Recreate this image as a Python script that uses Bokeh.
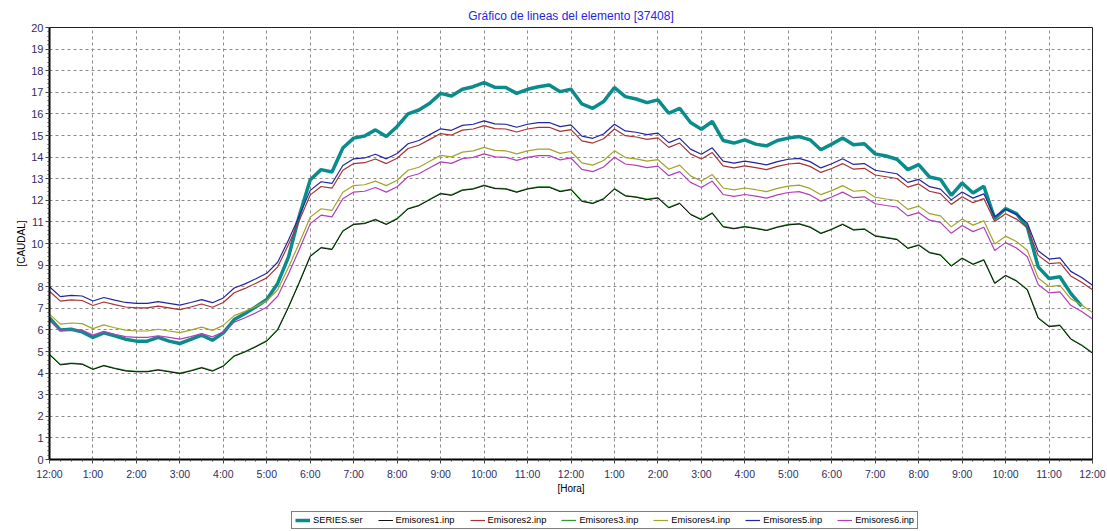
from bokeh.plotting import figure
from bokeh.layouts import column
from bokeh.models import FixedTicker, Legend, LegendItem, Range1d
from bokeh.embed import file_html
from bokeh.resources import INLINE

# ---- data (15-minute steps from 12:00 AM to 12:00 AM next day) ----
hour_labels = ["12:00", "1:00", "2:00", "3:00", "4:00", "5:00", "6:00", "7:00", "8:00",
               "9:00", "10:00", "11:00", "12:00", "1:00", "2:00", "3:00", "4:00", "5:00",
               "6:00", "7:00", "8:00", "9:00", "10:00", "11:00", "12:00"]

series_ser = [6.55, 5.99, 6.03, 5.91, 5.65, 5.86, 5.73, 5.57, 5.48, 5.48, 5.65, 5.48,
              5.37, 5.56, 5.76, 5.52, 5.86, 6.48, 6.76, 7.07, 7.41, 8.15, 9.38, 11.30,
              12.95, 13.42, 13.31, 14.42, 14.88, 14.98, 15.26, 14.95, 15.42, 16.00, 16.18, 16.49,
              16.95, 16.83, 17.14, 17.26, 17.45, 17.23, 17.22, 16.95, 17.14, 17.26, 17.34, 17.03,
              17.14, 16.46, 16.26, 16.57, 17.22, 16.80, 16.69, 16.52, 16.65, 16.03, 16.26, 15.60,
              15.29, 15.65, 14.77, 14.65, 14.80, 14.60, 14.52, 14.77, 14.88, 14.95, 14.80, 14.34,
              14.60, 14.88, 14.57, 14.62, 14.15, 14.05, 13.90, 13.42, 13.65, 13.08, 12.97, 12.23,
              12.80, 12.34, 12.65, 11.15, 11.62, 11.38, 10.77, 8.92, 8.38, 8.46, 7.69, 7.10]

emisores1 = [4.85, 4.38, 4.44, 4.41, 4.17, 4.34, 4.21, 4.10, 4.06, 4.06, 4.14, 4.06,
             3.98, 4.10, 4.24, 4.09, 4.32, 4.78, 4.98, 5.22, 5.48, 6.00, 7.05, 8.20,
             9.40, 9.80, 9.72, 10.57, 10.88, 10.92, 11.10, 10.88, 11.14, 11.60, 11.75, 12.03,
             12.30, 12.23, 12.46, 12.52, 12.68, 12.54, 12.52, 12.37, 12.52, 12.60, 12.60, 12.40,
             12.49, 11.95, 11.85, 12.06, 12.52, 12.20, 12.14, 12.03, 12.10, 11.65, 11.85, 11.34,
             11.10, 11.40, 10.77, 10.68, 10.77, 10.69, 10.60, 10.75, 10.86, 10.90, 10.75, 10.46,
             10.65, 10.88, 10.62, 10.66, 10.34, 10.26, 10.18, 9.77, 9.92, 9.57, 9.46, 8.95,
             9.31, 9.03, 9.23, 8.15, 8.51, 8.26, 7.85, 6.54, 6.15, 6.20, 5.57, 5.28, 4.92]

emisores2 = [7.79, 7.33, 7.39, 7.36, 7.13, 7.29, 7.17, 7.06, 7.02, 7.02, 7.10, 7.02,
             6.94, 7.06, 7.20, 7.05, 7.27, 7.72, 7.92, 8.16, 8.41, 8.92, 9.95, 11.07,
             12.25, 12.64, 12.56, 13.39, 13.70, 13.74, 13.91, 13.70, 13.95, 14.40, 14.55, 14.82,
             15.09, 15.02, 15.25, 15.30, 15.46, 15.32, 15.30, 15.16, 15.30, 15.38, 15.38, 15.19,
             15.27, 14.75, 14.65, 14.85, 15.30, 14.99, 14.93, 14.82, 14.89, 14.45, 14.65, 14.15,
             13.91, 14.21, 13.59, 13.50, 13.59, 13.51, 13.42, 13.57, 13.68, 13.72, 13.57, 13.29,
             13.47, 13.70, 13.44, 13.48, 13.17, 13.09, 13.01, 12.61, 12.76, 12.42, 12.31, 11.81,
             12.16, 11.89, 12.08, 11.02, 11.38, 11.13, 10.73, 9.45, 9.07, 9.11, 8.50, 8.21, 7.86]

emisores3 = [4.87, 4.40, 4.46, 4.43, 4.19, 4.36, 4.23, 4.12, 4.08, 4.08, 4.16, 4.08,
             4.00, 4.12, 4.26, 4.11, 4.34, 4.80, 5.00, 5.24, 5.50, 6.02, 7.07, 8.22,
             9.42, 9.82, 9.74, 10.59, 10.90, 10.94, 11.12, 10.90, 11.16, 11.62, 11.77, 12.05,
             12.32, 12.25, 12.48, 12.54, 12.70, 12.56, 12.54, 12.39, 12.54, 12.62, 12.62, 12.42,
             12.51, 11.97, 11.87, 12.08, 12.54, 12.22, 12.16, 12.05, 12.12, 11.67, 11.87, 11.36,
             11.12, 11.42, 10.79, 10.70, 10.79, 10.71, 10.62, 10.77, 10.88, 10.92, 10.77, 10.48,
             10.67, 10.90, 10.64, 10.68, 10.36, 10.28, 10.20, 9.79, 9.94, 9.59, 9.48, 8.97,
             9.33, 9.05, 9.25, 8.17, 8.53, 8.28, 7.87, 6.56, 6.17, 6.22, 5.59, 5.30, 4.94]

emisores4 = [6.73, 6.27, 6.32, 6.29, 6.06, 6.23, 6.10, 5.99, 5.95, 5.95, 6.03, 5.95,
             5.87, 5.99, 6.13, 5.98, 6.21, 6.66, 6.86, 7.09, 7.35, 7.86, 8.90, 10.03,
             11.22, 11.61, 11.53, 12.37, 12.68, 12.72, 12.89, 12.68, 12.93, 13.39, 13.53, 13.81,
             14.08, 14.01, 14.23, 14.29, 14.45, 14.31, 14.29, 14.15, 14.29, 14.37, 14.37, 14.17,
             14.26, 13.73, 13.63, 13.84, 14.29, 13.98, 13.92, 13.81, 13.88, 13.44, 13.63, 13.13,
             12.89, 13.19, 12.57, 12.48, 12.57, 12.49, 12.40, 12.55, 12.66, 12.70, 12.55, 12.26,
             12.45, 12.68, 12.42, 12.46, 12.14, 12.06, 11.99, 11.58, 11.73, 11.38, 11.28, 10.77,
             11.13, 10.85, 11.05, 9.98, 10.34, 10.09, 9.69, 8.40, 8.01, 8.06, 7.44, 7.15, 6.80]

emisores5 = [8.00, 7.54, 7.60, 7.57, 7.34, 7.50, 7.38, 7.27, 7.23, 7.23, 7.31, 7.23,
             7.15, 7.27, 7.40, 7.26, 7.48, 7.94, 8.13, 8.37, 8.62, 9.13, 10.16, 11.29,
             12.46, 12.86, 12.78, 13.61, 13.92, 13.96, 14.13, 13.92, 14.17, 14.62, 14.77, 15.04,
             15.31, 15.24, 15.47, 15.52, 15.68, 15.54, 15.52, 15.38, 15.52, 15.60, 15.60, 15.41,
             15.49, 14.97, 14.87, 15.07, 15.52, 15.21, 15.15, 15.04, 15.11, 14.67, 14.87, 14.37,
             14.13, 14.43, 13.81, 13.72, 13.81, 13.73, 13.64, 13.79, 13.90, 13.94, 13.79, 13.50,
             13.69, 13.92, 13.66, 13.70, 13.39, 13.31, 13.23, 12.83, 12.97, 12.63, 12.52, 12.02,
             12.38, 12.10, 12.30, 11.24, 11.59, 11.35, 10.95, 9.66, 9.28, 9.33, 8.71, 8.43, 8.07]

emisores6 = [6.43, 5.97, 6.02, 5.99, 5.76, 5.93, 5.80, 5.69, 5.65, 5.65, 5.73, 5.65,
             5.57, 5.69, 5.83, 5.68, 5.91, 6.36, 6.56, 6.79, 7.05, 7.56, 8.60, 9.73,
             10.92, 11.31, 11.23, 12.07, 12.38, 12.42, 12.59, 12.38, 12.63, 13.09, 13.23, 13.51,
             13.78, 13.71, 13.93, 13.99, 14.15, 14.01, 13.99, 13.85, 13.99, 14.07, 14.07, 13.87,
             13.96, 13.43, 13.33, 13.54, 13.99, 13.68, 13.62, 13.51, 13.58, 13.14, 13.33, 12.83,
             12.59, 12.89, 12.27, 12.18, 12.27, 12.19, 12.10, 12.25, 12.36, 12.40, 12.25, 11.96,
             12.15, 12.38, 12.12, 12.16, 11.84, 11.76, 11.69, 11.28, 11.43, 11.08, 10.98, 10.47,
             10.83, 10.55, 10.75, 9.68, 10.04, 9.79, 9.39, 8.10, 7.71, 7.76, 7.14, 6.85, 6.50]

series_names = ["SERIES.ser", "Emisores1.inp", "Emisores2.inp", "Emisores3.inp",
                "Emisores4.inp", "Emisores5.inp", "Emisores6.inp"]
series_colors = ["#0a8c8c", "#111111", "#a83232", "#2e9a2e", "#a3a32a", "#24249c", "#b040b8"]
series_widths = [3.5, 1, 1.2, 1.3, 1.2, 1.2, 1.2]

# time axis in hours (sample index * 15 min)
t_full = [i / 4 for i in range(len(emisores1))]
t_ser = [i / 4 for i in range(len(series_ser))]

FONT = "Liberation Sans"

p = figure(width=1107, height=505, output_backend="svg", toolbar_location=None,
           x_range=Range1d(0, 24), y_range=Range1d(0, 20),
           min_border_left=49, min_border_right=15, min_border_top=27, min_border_bottom=46,
           background_fill_color="white", border_fill_color="white")

p.title.text = "Gráfico de lineas del elemento [37408]"
p.title.align = "center"
p.title.text_font = FONT
p.title.text_font_size = "12px"
p.title.text_font_style = "normal"
p.title.text_color = "#2626e0"
p.title.standoff = 10

p.outline_line_color = "#222222"
p.outline_line_width = 1

# axes
p.xaxis.ticker = FixedTicker(ticks=list(range(25)), minor_ticks=[i / 4 for i in range(97)])
p.xaxis.major_label_overrides = {i: lab for i, lab in enumerate(hour_labels)}
p.yaxis.ticker = FixedTicker(ticks=list(range(21)), minor_ticks=[i / 5 for i in range(101)])

for ax in (p.xaxis[0], p.yaxis[0]):
    ax.axis_line_color = "black"
    ax.axis_line_width = 2
    ax.major_tick_line_color = "#444444"
    ax.major_tick_out = 4
    ax.major_tick_in = 0
    ax.minor_tick_line_color = "#444444"
    ax.minor_tick_out = 2
    ax.minor_tick_in = 0
    ax.major_label_text_font = FONT
    ax.major_label_text_color = "#2e2e60"
    ax.axis_label_text_font = FONT
    ax.axis_label_text_font_size = "10px"
    ax.axis_label_text_font_style = "normal"
    ax.axis_label_text_color = "black"

p.xaxis.major_label_text_font_size = "10.5px"
p.yaxis.major_label_text_font_size = "11px"
p.xaxis.axis_label = "[Hora]"
p.xaxis.major_label_standoff = 4
p.xaxis.axis_label_standoff = 0
p.yaxis.axis_label = "[CAUDAL]"
p.yaxis.major_label_standoff = 2
p.yaxis.axis_label_standoff = 1

# grid
for g in (p.xgrid[0], p.ygrid[0]):
    g.grid_line_color = "#8a8a8a"
    g.grid_line_dash = "3 3"
    g.grid_line_width = 1
p.xgrid.ticker = FixedTicker(ticks=list(range(25)))
p.ygrid.ticker = FixedTicker(ticks=list(range(21)))

# lines (Emisores drawn over SERIES; Emisores1 over Emisores3)
p.line(t_ser, series_ser, line_color=series_colors[0], line_width=series_widths[0])
p.line(t_full, emisores3, line_color=series_colors[3], line_width=series_widths[3])
p.line(t_full, emisores1, line_color=series_colors[1], line_width=series_widths[1])
p.line(t_full, emisores2, line_color=series_colors[2], line_width=series_widths[2])
p.line(t_full, emisores4, line_color=series_colors[4], line_width=series_widths[4])
p.line(t_full, emisores6, line_color=series_colors[6], line_width=series_widths[6])
p.line(t_full, emisores5, line_color=series_colors[5], line_width=series_widths[5])

# legend strip below the chart (its own small canvas; sample lines lie outside its view)
leg = figure(width=1107, height=26, output_backend="svg", toolbar_location=None,
             x_range=Range1d(0, 1), y_range=Range1d(0, 1),
             x_axis_location=None, y_axis_location=None,
             min_border=0, outline_line_color=None,
             background_fill_color="white", border_fill_color="white")
leg.grid.visible = False
items = []
for name, col, w in zip(series_names, series_colors, series_widths):
    r = leg.line(x=[5, 6], y=[5, 6], line_color=col, line_width=w)
    items.append(LegendItem(label=name, renderers=[r]))
legend = Legend(items=items, orientation="horizontal", location=(242, 2),
                glyph_width=15, glyph_height=10, label_standoff=3, spacing=15,
                padding=3, margin=0, label_height=10,
                label_text_font=FONT, label_text_font_size="9.3px", label_text_color="black",
                border_line_color="black", border_line_width=1,
                background_fill_color="white", background_fill_alpha=1)
leg.add_layout(legend, "center")

layout = column(p, leg, spacing=0)
open("out.html", "w").write(file_html(layout, INLINE))
